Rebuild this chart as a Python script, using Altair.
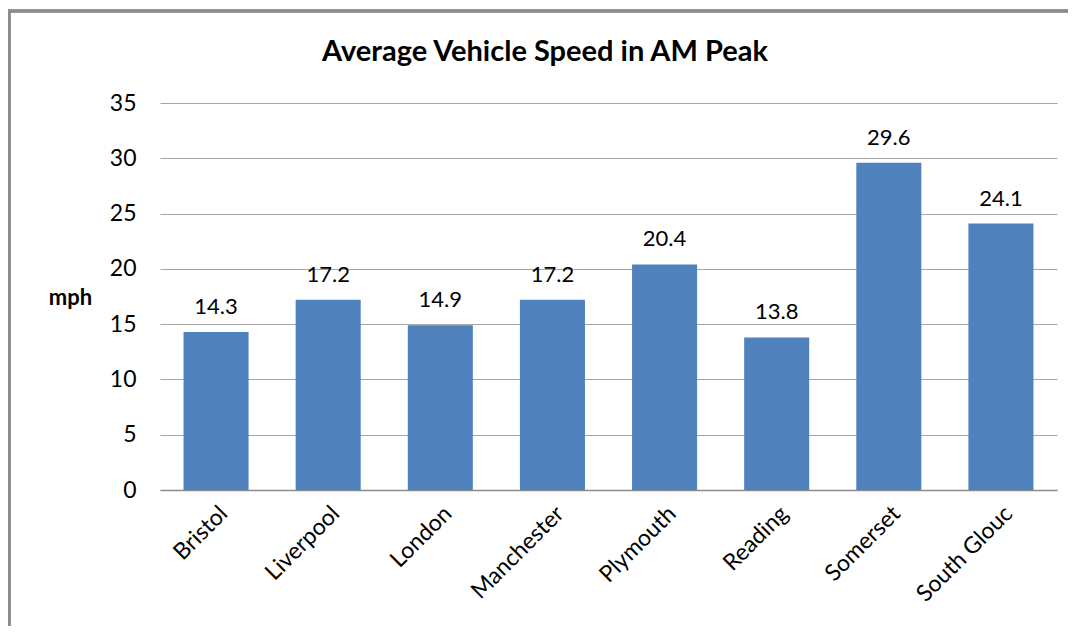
import altair as alt
import pandas as pd

cities = ["Bristol", "Liverpool", "London", "Manchester", "Plymouth", "Reading", "Somerset", "South Glouc"]
speeds = [14.3, 17.2, 14.9, 17.2, 20.4, 13.8, 29.6, 24.1]
title_text = "Average Vehicle Speed in AM Peak"

df = pd.DataFrame({"city": cities, "speed": speeds})
FONT = "Lato"

base = alt.Chart(df)

x_enc = alt.X("city:N", sort=cities, title=None,
              scale=alt.Scale(paddingInner=0.42, paddingOuter=0.21),
              axis=alt.Axis(labelAngle=-45, labelFontSize=23, labelFont=FONT, labelColor="#000000",
                            labelPadding=12, ticks=False, domain=True, domainColor="#8c8c8c",
                            domainWidth=1.5, grid=False))
y_enc = alt.Y("speed:Q", scale=alt.Scale(domain=[0, 35]),
              axis=alt.Axis(values=[0, 5, 10, 15, 20, 25, 30, 35], labelFontSize=23, labelFont=FONT,
                            labelColor="#000000", labelPadding=24, ticks=False, domain=False,
                            grid=True, gridColor="#a6a6a6", gridWidth=1,
                            title="mph", titleAngle=0, titleFont=FONT, titleFontSize=22,
                            titleFontWeight="bold", titleColor="#000000",
                            titleX=-90, titleY=194, titleAlign="center", titleBaseline="middle"))

bars = base.mark_bar(color="#4F81BD").encode(x=x_enc, y=y_enc)

labels = base.mark_text(baseline="bottom", dy=-13, fontSize=22, font=FONT, color="#000000").encode(
    x=alt.X("city:N", sort=cities),
    y=alt.Y("speed:Q"),
    text=alt.Text("speed:Q", format=".1f"),
)

border = base.mark_rect(fill=None, stroke="#8c8c8c", strokeWidth=2.5).encode(
    x=alt.value(-151), x2=alt.value(940), y=alt.value(-92), y2=alt.value(560)
)

title = alt.Chart(pd.DataFrame({"t": [title_text]})).mark_text(
    font=FONT, fontSize=29, fontWeight="bold", color="#000000", align="center", baseline="middle"
).encode(x=alt.value(385), y=alt.value(-51), text="t:N")

chart = alt.layer(border, bars, labels, title).properties(
    width=897, height=387,
    padding={"left": 152, "top": 95, "right": 11, "bottom": 136},
    autosize=alt.AutoSizeParams(type="none"),
).configure_view(stroke=None)

chart.save("out.html", embed_options={"renderer": "svg", "actions": False})
